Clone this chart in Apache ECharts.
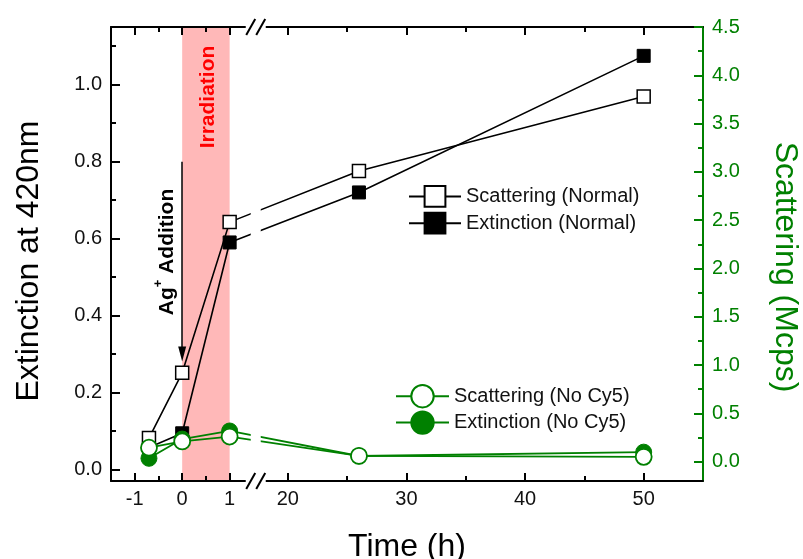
<!DOCTYPE html>
<html>
<head>
<meta charset="utf-8">
<title>Extinction and scattering vs time</title>
<script src="https://cdn.jsdelivr.net/npm/echarts@6.0.0/dist/echarts.min.js"></script>
<style>
  html, body { margin: 0; padding: 0; background: #fff; }
  #myChart { width: 803px; height: 559px; }
</style>
</head>
<body>
<div id="myChart"></div>
<script>
// values
var timeH = [-0.7, 0, 1, 26, 50];
var scatNormal = [0.245, 0.92, 2.48, 3.01, 3.78];   // Mcps (right axis)
var extNormal = [0.057, 0.094, 0.59, 0.72, 1.075];  // extinction (left axis)
var scatNoCy5 = [0.145, 0.21, 0.26, 0.06, 0.05];    // Mcps (right axis)
var extNoCy5 = [0.029, 0.079, 0.10, 0.035, 0.045];  // extinction (left axis)

var xMajor = [-1, 0, 1, 20, 30, 40, 50];
var xMinor = [-0.5, 0.5, 25, 35, 45];
var leftMajor = [0, 0.2, 0.4, 0.6, 0.8, 1.0];
var leftMinor = [0.1, 0.3, 0.5, 0.7, 0.9, 1.1];
var rightMajor = [0, 0.5, 1, 1.5, 2, 2.5, 3, 3.5, 4, 4.5];
var rightMinor = [0.25, 0.75, 1.25, 1.75, 2.25, 2.75, 3.25, 3.75, 4.25];

var irradiation = [0, 1];         // h
var agAddition = [0, 0.8, 0.3];   // time, arrow start, arrow end (left axis)

// broken time axis: -1.5..1.5 then 17.5..55 at a quarter of the scale
var BRK_LO = 1.5, BRK_HI = 17.5, GAP = 0.1, SHRINK = 0.25;
function bx(t) {
  return t <= BRK_LO ? t : BRK_LO + GAP + (t - BRK_HI) * SHRINK;
}
function pairs(vals) {
  return timeH.map(function (t, i) { return [bx(t), vals[i]]; });
}

var FONT = 'Liberation Sans, Arial, sans-serif';
var GREEN = '#008000';

function xAx(pos, ticks, len, withLabel) {
  var vals = ticks.map(bx);
  return {
    type: 'value', position: pos, min: bx(-1.5), max: bx(55), z: 4,
    axisLine: { show: withLabel !== null, onZero: false, lineStyle: { color: '#000', width: 2 } },
    axisTick: { inside: true, length: len, customValues: vals, lineStyle: { color: '#000', width: 2 } },
    axisLabel: withLabel ? {
      customValues: vals, margin: 8, color: '#111', fontSize: 20, fontFamily: FONT,
      formatter: function (v) {
        for (var i = 0; i < vals.length; i++) if (Math.abs(vals[i] - v) < 1e-6) return String(ticks[i]);
        return '';
      }
    } : { show: false },
    splitLine: { show: false }
  };
}

function yAx(pos, min, max, ticks, len, color, withLabel, lineOn) {
  return {
    type: 'value', position: pos, min: min, max: max, z: 4,
    axisLine: { show: lineOn, onZero: false, lineStyle: { color: color, width: 2 } },
    axisTick: { inside: true, length: len, customValues: ticks, lineStyle: { color: color, width: 2 } },
    axisLabel: withLabel ? {
      customValues: ticks, margin: 9, color: color === '#000' ? '#111' : color,
      fontSize: 20, fontFamily: FONT,
      formatter: function (v) { return v.toFixed(1); }
    } : { show: false },
    splitLine: { show: false }
  };
}

var xAxes = [
  xAx('bottom', xMajor, 8, true),
  xAx('bottom', xMinor, 5, null),
  xAx('top', xMajor, 8, false),
  xAx('top', xMinor, 5, null)
];
xAxes[0].name = 'Time (h)';
xAxes[0].nameLocation = 'middle';
xAxes[0].nameGap = 50;
xAxes[0].nameTextStyle = { fontSize: 32, fontFamily: FONT, color: '#000' };

var yAxes = [
  yAx('left', -0.03, 1.15, leftMajor, 9, '#000', true, true),
  yAx('left', -0.03, 1.15, leftMinor, 5, '#000', false, false),
  yAx('right', -0.2, 4.5, rightMajor, 9, GREEN, true, true),
  yAx('right', -0.2, 4.5, rightMinor, 5, GREEN, false, false)
];
yAxes[0].name = 'Extinction at 420nm';
yAxes[0].nameLocation = 'middle';
yAxes[0].nameRotate = 90;
yAxes[0].nameGap = 66;
yAxes[0].nameTextStyle = { fontSize: 32, fontFamily: FONT, color: '#000', padding: [0, 14, 0, 0] };
yAxes[2].name = 'Scattering (Mcps)';
yAxes[2].nameLocation = 'middle';
yAxes[2].nameRotate = -90;
yAxes[2].nameGap = 66;
yAxes[2].nameTextStyle = { fontSize: 32, fontFamily: FONT, color: GREEN, padding: [0, 0, 0, 26] };

var chart = echarts.init(document.getElementById('myChart'));
chart.setOption({
  animation: false,
  backgroundColor: '#fff',
  textStyle: { fontFamily: FONT },
  grid: { left: 111, right: 100, top: 27, bottom: 78, containLabel: false, outerBoundsMode: 'none' },
  legend: [
    {
      data: ['Scattering (Normal)', 'Extinction (Normal)'],
      orient: 'vertical', left: 403, top: 180, itemWidth: 52, itemHeight: 26, itemGap: 4,
      textStyle: { fontSize: 20, color: '#111', fontFamily: FONT }, selectedMode: false
    },
    {
      data: ['Scattering (No Cy5)', 'Extinction (No Cy5)'],
      orient: 'vertical', left: 390, top: 379, itemWidth: 53, itemHeight: 28, itemGap: 2,
      textStyle: { fontSize: 20, color: '#111', fontFamily: FONT }, selectedMode: false
    }
  ],
  xAxis: xAxes,
  yAxis: yAxes,
  series: [
    {
      name: 'Extinction (Normal)', type: 'line', xAxisIndex: 0, yAxisIndex: 0,
      data: pairs(extNormal), symbol: 'rect', symbolSize: 13,
      lineStyle: { color: '#000', width: 1.6 },
      itemStyle: { color: '#000', borderColor: '#000', borderWidth: 1 },
      markArea: {
        silent: true, itemStyle: { color: '#ffb8b8' },
        data: [[{ xAxis: bx(irradiation[0]) }, { xAxis: bx(irradiation[1]) }]]
      },
      markLine: {
        silent: true, symbol: ['none', 'triangle'], symbolSize: [8, 15],
        lineStyle: { color: '#000', width: 1.5, type: 'solid' },
        label: { show: false },
        data: [[{ coord: [bx(agAddition[0]), agAddition[1]] }, { coord: [bx(agAddition[0]), agAddition[2]] }]]
      }
    },
    {
      name: 'Scattering (Normal)', type: 'line', xAxisIndex: 0, yAxisIndex: 2,
      data: pairs(scatNormal), symbol: 'rect', symbolSize: 13,
      lineStyle: { color: '#000', width: 1.6 },
      itemStyle: { color: '#fff', borderColor: '#000', borderWidth: 1.5 }
    },
    {
      name: 'Extinction (No Cy5)', type: 'line', xAxisIndex: 0, yAxisIndex: 0,
      data: pairs(extNoCy5), symbol: 'circle', symbolSize: 16,
      lineStyle: { color: GREEN, width: 1.8 },
      itemStyle: { color: GREEN, borderColor: GREEN, borderWidth: 1 }
    },
    {
      name: 'Scattering (No Cy5)', type: 'line', xAxisIndex: 0, yAxisIndex: 2,
      data: pairs(scatNoCy5), symbol: 'circle', symbolSize: 16,
      lineStyle: { color: GREEN, width: 1.8 },
      itemStyle: { color: '#fff', borderColor: GREEN, borderWidth: 1.8 }
    }
  ]
});

// break marks and annotations, placed from the axes
var cx = chart.convertToPixel({ xAxisIndex: 0 }, BRK_LO + GAP / 2);
var yTop = chart.convertToPixel({ yAxisIndex: 0 }, 1.15);
var yBot = chart.convertToPixel({ yAxisIndex: 0 }, -0.03);
var bandMid = chart.convertToPixel({ xAxisIndex: 0 }, (bx(irradiation[0]) + bx(irradiation[1])) / 2);
var addX = chart.convertToPixel({ xAxisIndex: 0 }, bx(agAddition[0]));

var g = [
  { type: 'rect', z: 50, shape: { x: cx - 5, y: yTop + 4, width: 10, height: yBot - yTop - 8 }, style: { fill: '#fff' } }
];
[yTop, yBot].forEach(function (y) {
  g.push({ type: 'rect', z: 50, shape: { x: cx - 10, y: y - 4, width: 20, height: 8 }, style: { fill: '#fff' } });
  [-5, 5].forEach(function (dx) {
    g.push({
      type: 'line', z: 51,
      shape: { x1: cx + dx - 4.5, y1: y + 8, x2: cx + dx + 4.5, y2: y - 8 },
      style: { stroke: '#000', lineWidth: 2 }
    });
  });
});
g.push({
  type: 'text', z: 60, x: bandMid + 2, y: 97, rotation: Math.PI / 2,
  style: {
    text: 'Irradiation', fill: '#ff0000', font: 'bold 21px ' + FONT,
    align: 'center', verticalAlign: 'middle', textAlign: 'center', textVerticalAlign: 'middle'
  }
});
g.push({
  type: 'text', z: 60, x: addX - 17, y: 252, rotation: Math.PI / 2,
  style: {
    text: '{a|Ag}{s|+}{a| Addition}', fill: '#000',
    align: 'center', verticalAlign: 'middle', textAlign: 'center', textVerticalAlign: 'middle',
    rich: {
      a: { font: 'bold 21px ' + FONT, fill: '#000', lineHeight: 26, verticalAlign: 'bottom' },
      s: { font: 'bold 13px ' + FONT, fill: '#000', lineHeight: 26, verticalAlign: 'top' }
    }
  }
});
chart.setOption({ graphic: g });
</script>
</body>
</html>
